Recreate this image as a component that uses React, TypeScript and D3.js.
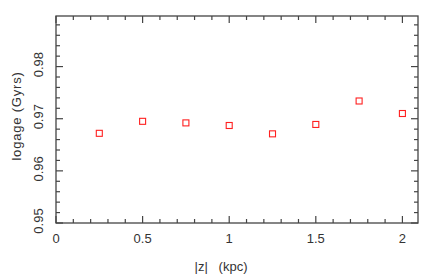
import React, { useEffect, useRef } from 'react'
import * as d3 from 'd3'

const zValues = [0.25, 0.5, 0.75, 1.0, 1.25, 1.5, 1.75, 2.0]
const logAge = [0.9672, 0.9695, 0.9692, 0.9687, 0.9671, 0.9689, 0.9734, 0.971]
const xTicks = [0, 0.5, 1, 1.5, 2]
const yTicks = [0.95, 0.96, 0.97, 0.98]

function App() {
  const svgRef = useRef<SVGSVGElement>(null)

  useEffect(() => {
    const svg = d3.select(svgRef.current)
    svg.selectAll('*').remove()

    const width = 436
    const height = 279
    const margin = { top: 16, right: 18, bottom: 56, left: 56 }
    const x0 = margin.left
    const x1 = width - margin.right
    const y0 = height - margin.bottom
    const y1 = margin.top

    const xScale = d3.scaleLinear().domain([0, 2.09]).range([x0, x1])
    const yScale = d3.scaleLinear().domain([0.95, 0.9897]).range([y0, y1])

    const font = "'Liberation Sans', Arial, sans-serif"
    const axisColor = '#444'

    // frame
    svg.append('rect')
      .attr('x', x0).attr('y', y1)
      .attr('width', x1 - x0).attr('height', y0 - y1)
      .attr('fill', 'none')
      .attr('stroke', axisColor)
      .attr('stroke-width', 1.3)

    // ticks, inward on all four sides
    const xMinor = d3.range(0, 2.09, 0.1)
    const yMinor = d3.range(0.95, 0.9897, 0.002)
    const isMajor = (v: number, step: number) => Math.abs(v / step - Math.round(v / step)) < 1e-6

    const ticks = svg.append('g').attr('stroke', axisColor).attr('stroke-width', 1.2)
    xMinor.forEach(v => {
      const len = isMajor(v, 0.5) ? 7 : 4
      const x = xScale(v)
      ticks.append('line').attr('x1', x).attr('x2', x).attr('y1', y0).attr('y2', y0 - len)
      ticks.append('line').attr('x1', x).attr('x2', x).attr('y1', y1).attr('y2', y1 + len)
    })
    yMinor.forEach(v => {
      const len = isMajor(v, 0.01) ? 7 : 4
      const y = yScale(v)
      ticks.append('line').attr('x1', x0).attr('x2', x0 + len).attr('y1', y).attr('y2', y)
      ticks.append('line').attr('x1', x1).attr('x2', x1 - len).attr('y1', y).attr('y2', y)
    })

    // tick labels
    svg.selectAll('.xlab')
      .data(xTicks)
      .enter().append('text')
      .attr('class', 'xlab')
      .attr('x', d => xScale(d))
      .attr('y', 243)
      .attr('text-anchor', 'middle')
      .style('font-family', font)
      .style('font-size', '13px')
      .style('fill', '#333')
      .text(d => String(d))

    svg.selectAll('.ylab')
      .data(yTicks)
      .enter().append('text')
      .attr('class', 'ylab')
      .attr('transform', d => `translate(43,${yScale(d) - 2}) rotate(-90)`)
      .attr('text-anchor', 'middle')
      .style('font-family', font)
      .style('font-size', '13px')
      .style('fill', '#333')
      .text(d => d.toFixed(2))

    // axis titles
    svg.append('text')
      .attr('x', 221)
      .attr('y', 271)
      .attr('text-anchor', 'middle')
      .attr('xml:space', 'preserve')
      .style('white-space', 'pre')
      .style('font-family', font)
      .style('font-size', '13px')
      .style('fill', '#333')
      .text('|z|   (kpc)')

    svg.append('text')
      .attr('transform', `translate(21,116) rotate(-90)`)
      .attr('text-anchor', 'middle')
      .style('font-family', font)
      .style('font-size', '13px')
      .style('letter-spacing', '0.8px')
      .style('fill', '#333')
      .text('logage (Gyrs)')

    // points: open red squares
    const s = 6
    svg.selectAll('.pt')
      .data(zValues.map((z, i) => ({ z, v: logAge[i] })))
      .enter().append('rect')
      .attr('class', 'pt')
      .attr('x', d => xScale(d.z) - s / 2)
      .attr('y', d => yScale(d.v) - s / 2)
      .attr('width', s)
      .attr('height', s)
      .attr('fill', 'none')
      .attr('stroke', '#ff2020')
      .attr('stroke-width', 1.1)
  }, [])

  return (
    <svg
      ref={svgRef}
      width={436}
      height={279}
      style={{ position: 'absolute', left: 0, top: 0, background: '#fff' }}
    />
  )
}

export default App
